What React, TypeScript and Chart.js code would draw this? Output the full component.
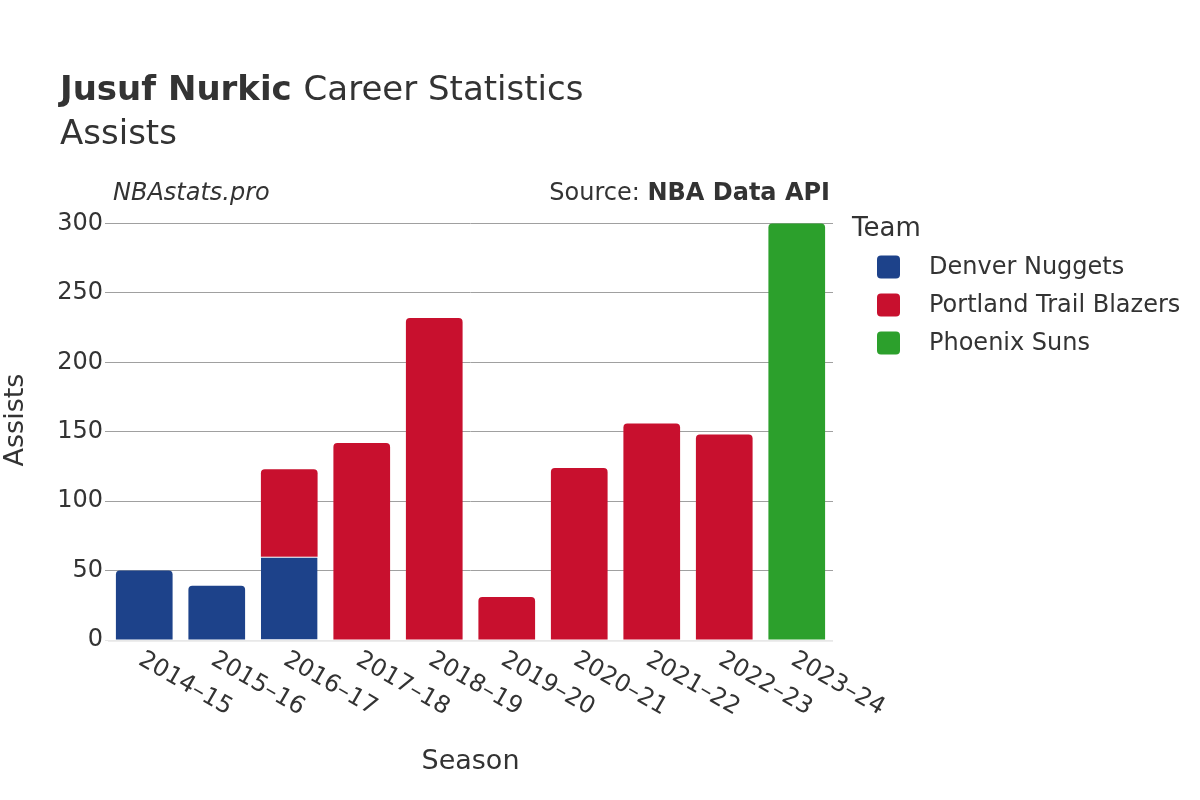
import React, { useEffect, useRef } from 'react';
import { Chart, registerables } from 'chart.js';

Chart.register(...registerables);

const seasons = ['2014–15', '2015–16', '2016–17', '2017–18', '2018–19', '2019–20', '2020–21', '2021–22', '2022–23', '2023–24'];
const denverAssists = [50, 39, 60, null, null, null, null, null, null, null];
const portlandAssists = [null, null, 63, 142, 232, 31, 124, 156, 148, null];
const phoenixAssists = [null, null, null, null, null, null, null, null, null, 300];
const teamNames = ['Denver Nuggets', 'Portland Trail Blazers', 'Phoenix Suns'];
const teamColors = ['#1D428A', '#C8102E', '#2CA02C'];
const yTickValues = [0, 50, 100, 150, 200, 250, 300];
const yAxisMax = 317;

const FONT = '"DejaVu Sans", sans-serif';
const TEXT = '#333333';

const seriesList = [denverAssists, portlandAssists, phoenixAssists];

function hasAbove(datasetIndex: number, index: number) {
  for (let d = datasetIndex + 1; d < seriesList.length; d++) {
    if (seriesList[d][index] != null) return true;
  }
  return false;
}

const decorPlugin = {
  id: 'decor',
  afterDatasetsDraw(chart: any) {
    const { ctx, chartArea } = chart;
    const y0 = chart.scales.y.getPixelForValue(0);
    ctx.save();
    ctx.strokeStyle = 'rgba(232,232,232,0.8)';
    ctx.lineWidth = 2;
    ctx.beginPath();
    ctx.moveTo(chartArea.left, y0 + 1);
    ctx.lineTo(chartArea.right, y0 + 1);
    ctx.stroke();
    ctx.restore();
  },
  afterDraw(chart: any) {
    const ctx = chart.ctx;
    ctx.save();
    ctx.fillStyle = TEXT;
    ctx.textBaseline = 'alphabetic';
    ctx.textAlign = 'left';
    // Title
    ctx.font = `bold 34px ${FONT}`;
    ctx.fillText('Jusuf Nurkic', 60, 100);
    const w = ctx.measureText('Jusuf Nurkic ').width;
    ctx.font = `34px ${FONT}`;
    ctx.fillText('Career Statistics', 60 + w, 100);
    ctx.fillText('Assists', 60, 144);
    // Sub line
    ctx.font = `italic 24px ${FONT}`;
    ctx.fillText('NBAstats.pro', 113, 200);
    ctx.textAlign = 'right';
    ctx.font = `bold 24px ${FONT}`;
    const boldPart = 'NBA Data API';
    ctx.fillText(boldPart, 830, 200);
    const bw = ctx.measureText(boldPart).width;
    ctx.font = `24px ${FONT}`;
    ctx.fillText('Source: ', 830 - bw, 200);

    // X tick labels (rotated)
    const xs = chart.scales.x;
    ctx.font = `24px ${FONT}`;
    ctx.textAlign = 'left';
    ctx.textBaseline = 'middle';
    seasons.forEach((s, i) => {
      const x = xs.getPixelForTick(i);
      ctx.save();
      ctx.translate(x - 4, 658);
      ctx.rotate(Math.PI / 6);
      ctx.fillText(s, 0, 0);
      ctx.restore();
    });

    // Legend
    ctx.textAlign = 'left';
    ctx.textBaseline = 'alphabetic';
    ctx.font = `26px ${FONT}`;
    ctx.fillText('Team', 852, 236);
    ctx.font = `24px ${FONT}`;
    ctx.textBaseline = 'middle';
    chart.data.datasets.forEach((ds: any, i: number) => {
      const cy = 267 + i * 38;
      ctx.fillStyle = ds.backgroundColor;
      ctx.beginPath();
      (ctx as any).roundRect(877, cy - 11.5, 23, 23, 4);
      ctx.fill();
      ctx.fillStyle = TEXT;
      ctx.fillText(ds.label, 929, cy + 1);
    });
    ctx.restore();
  },
};

export default function App() {
  const canvasRef = useRef<HTMLCanvasElement | null>(null);

  useEffect(() => {
    if (!canvasRef.current) return;
    const datasets = seriesList.map((data, d) => ({
      label: teamNames[d],
      data,
      backgroundColor: teamColors[d],
      borderColor: '#ffffff',
      borderWidth: (c: any) => (hasAbove(d, c.dataIndex) ? { top: 1, left: 0, right: 0, bottom: 0 } : 0),
      borderSkipped: 'start' as const,
      borderRadius: (c: any) =>
        hasAbove(d, c.dataIndex) ? 0 : { topLeft: 4, topRight: 4, bottomLeft: 0, bottomRight: 0 },
      barPercentage: 0.782,
      categoryPercentage: 1,
    }));

    const chart = new Chart(canvasRef.current, {
      type: 'bar',
      data: { labels: seasons, datasets },
      options: {
        responsive: false,
        animation: false,
        devicePixelRatio: 1,
        layout: { padding: { top: 200, right: 367, bottom: 22, left: 0 } },
        plugins: {
          legend: { display: false },
          tooltip: { enabled: false },
          title: { display: false },
        },
        scales: {
          x: {
            stacked: true,
            grid: { display: false },
            border: { display: false },
            ticks: { display: false },
            afterFit: (s: any) => {
              s.height = 138;
            },
            title: {
              display: true,
              text: 'Season',
              color: TEXT,
              font: { family: FONT, size: 27 },
              padding: 0,
            },
          },
          y: {
            stacked: true,
            min: 0,
            max: yAxisMax,
            afterBuildTicks: (s: any) => {
              s.ticks = yTickValues.map((v) => ({ value: v }));
            },
            afterFit: (s: any) => {
              s.width = 108;
            },
            border: { display: false },
            grid: {
              color: (c: any) => (c.tick && c.tick.value === 0 ? '#e6e6e6' : '#a0a0a0'),
              lineWidth: 1,
              tickLength: 3,
              drawTicks: true,
            },
            ticks: {
              color: TEXT,
              font: { family: FONT, size: 24 },
              padding: 2,
            },
            title: {
              display: true,
              text: 'Assists',
              color: TEXT,
              font: { family: FONT, size: 27 },
              padding: 0,
            },
          },
        },
      },
      plugins: [decorPlugin],
    } as any);

    return () => chart.destroy();
  }, []);

  return (
    <canvas
      ref={canvasRef}
      width={1200}
      height={800}
      style={{ position: 'absolute', left: 0, top: 0, width: 1200, height: 800, display: 'block' }}
    />
  );
}
